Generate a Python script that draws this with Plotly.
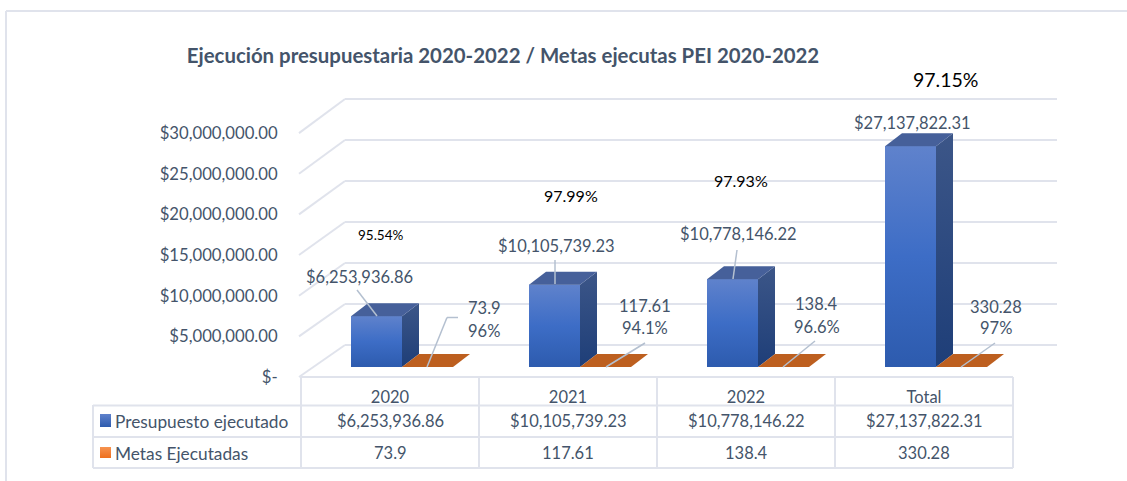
import plotly.graph_objects as go

categories = ["2020", "2021", "2022", "Total"]
presupuesto = [6253936.86, 10105739.23, 10778146.22, 27137822.31]
metas = [73.9, 117.61, 138.4, 330.28]
metas_pct = ["96%", "94.1%", "96.6%", "97%"]
ejec_pct = ["95.54%", "97.99%", "97.93%", "97.15%"]
y_ticks = [0, 5e6, 10e6, 15e6, 20e6, 25e6, 30e6]
y_tick_labels = ["$-", "$5,000,000.00", "$10,000,000.00", "$15,000,000.00",
                 "$20,000,000.00", "$25,000,000.00", "$30,000,000.00"]
serie_names = ["Presupuesto ejecutado", "Metas Ejecutadas"]

W, H = 1127, 481
PX0, PY0 = 301.0, 377.0      # pixel of category 0 / value 0 on the front plane
CAT_W = 178.0                # pixels per category
PER_PX = 1e6 / 8.13          # value units per pixel
TXT = "#44546A"
GRID = "#E0E3EC"
FONT = "Lato"


def X(px):
    return (px - PX0) / CAT_W


def Y(py):
    return (PY0 - py) * PER_PX


def money(v):
    return "${:,.2f}".format(v)


BAR_W = 51 / CAT_W
BASE = 10 * PER_PX           # bars stand inside the floor
DX, DY = 17 / CAT_W, 13 * PER_PX      # bar depth
OFF_B, OFF_O = 75.5 / CAT_W, 126.5 / CAT_W

fig = go.Figure()

fig.add_trace(go.Bar(x=[i + OFF_B for i in range(4)], y=presupuesto, base=BASE, width=BAR_W,
                     marker=dict(color="#3F6DC4", line=dict(width=0)), name=serie_names[0],
                     hoverinfo="skip"))
fig.add_trace(go.Bar(x=[i + OFF_O for i in range(4)], y=metas, base=BASE, width=BAR_W,
                     marker=dict(color="#BD5F1F", line=dict(width=0)), name=serie_names[1],
                     hoverinfo="skip"))


def poly(xs, ys, stops=None, color=None):
    kw = dict(x=xs + xs[:1], y=ys + ys[:1], mode="lines", fill="toself", line=dict(width=0),
              hoverinfo="skip", showlegend=False)
    if stops:
        kw["fillgradient"] = dict(type="vertical", colorscale=stops)
        kw["fillcolor"] = stops[0][1]
    else:
        kw["fillcolor"] = color
    fig.add_trace(go.Scatter(**kw))


for i, v in enumerate(presupuesto):
    l = i + OFF_B - BAR_W / 2
    r = l + BAR_W
    t = BASE + v
    poly([l, r, r, l], [BASE, BASE, t, t],
         stops=[[0, "#2D5BAE"], [0.5, "#3D6DC6"], [1, "#5F82CC"]])
    poly([r, r + DX, r + DX, r], [BASE, BASE + DY, t + DY, t],
         stops=[[0, "#1E3E78"], [1, "#3C5688"]])
    poly([l, r, r + DX, l + DX], [t, t, t + DY, t + DY], color="#46609A")

for i, v in enumerate(metas):
    l = i + OFF_O - BAR_W / 2
    r = l + BAR_W
    poly([l, r, r + DX, l + DX], [BASE + v, BASE + v, BASE + v + DY, BASE + v + DY], color="#BD5F1F")

shapes = []


def line(x0, y0, x1, y1, color=GRID, width=2, layer="below"):
    shapes.append(dict(type="line", xref="x", yref="y", x0=x0, y0=y0, x1=x1, y1=y1,
                       line=dict(color=color, width=width), layer=layer))


# 3D walls: back gridlines and diagonals, from the axis ticks
GX, GY, G_SCALE = 44 / CAT_W, 32 * PER_PX, 8.2 / 8.13
for t in y_ticks:
    back = t * G_SCALE + GY
    line(X(299), t, GX, back)
    line(GX, back, X(1057), back)

# outer frame of the picture
line(X(6), Y(11), X(1127), Y(11), width=2)
line(X(6), Y(11), X(6), Y(481), width=2)

# data table
for px in [301, 479, 657, 835, 1013]:
    line(X(px), Y(377), X(px), Y(468), width=2)
line(X(93), Y(405), X(93), Y(468), width=2)
line(X(301), Y(377), X(1013), Y(377), width=2)
for py in [405.5, 437, 468]:
    line(X(93), Y(py), X(1013), Y(py), width=2)

# leader lines
LEAD = "#B4C0D0"
leaders = [
    [(357, 290), (377, 316)],
    [(458, 317.5), (447, 317.5), (427, 367)],
    [(555, 260), (555, 284)],
    [(645, 343), (606, 367)],
    [(737, 250), (733, 279)],
    [(815, 341), (783, 367)],
    [(995, 343), (961, 367)],
]
for pts in leaders:
    for a, b in zip(pts, pts[1:]):
        line(X(a[0]), Y(a[1]), X(b[0]), Y(b[1]), color=LEAD, width=1.5, layer="above")

annotations = []


def text(px, py, s, size=16.5, color=TXT, anchor="center"):
    annotations.append(dict(x=X(px), y=Y(py), xref="x", yref="y", text=s,
                            showarrow=False, xanchor=anchor, yanchor="middle",
                            font=dict(family=FONT, size=size, color=color)))


blue_pos = [(359, 277), (556, 246), (738, 234), (912, 123)]
for v, p in zip(presupuesto, blue_pos):
    text(p[0], p[1], money(v))

orange_pos = [(484, 308, 331), (644.5, 306, 328), (816.5, 304, 327), (996, 307, 328)]
for v, pct, p in zip(metas, metas_pct, orange_pos):
    text(p[0], p[1], f"{v:g}")
    text(p[0], p[2], pct)

pct_pos = [(380.5, 235, 13.5), (571, 195, 16), (741, 180, 16), (945, 79, 19.5)]
for s, p in zip(ejec_pct, pct_pos):
    text(p[0], p[1], s, size=p[2], color="#000000")

# table body
centers = [390, 568, 746, 924]
for cx, a, b in zip(centers, presupuesto, metas):
    text(cx, 421, money(a))
    text(cx, 453, f"{b:g}")
text(113, 421, serie_names[0], anchor="left", size=17.3)
text(113, 453, serie_names[1], anchor="left", size=17.3)

poly([X(100), X(111), X(111), X(100)], [Y(427), Y(427), Y(414), Y(414)],
     stops=[[0, "#2D5BAE"], [1, "#5F82CC"]])
poly([X(100), X(111), X(111), X(100)], [Y(458), Y(458), Y(447), Y(447)],
     stops=[[0, "#EE6F1E"], [1, "#F69350"]])

fig.update_layout(
    width=W, height=H, margin=dict(l=0, r=0, t=0, b=0), autosize=False,
    paper_bgcolor="white", plot_bgcolor="white", showlegend=False, barmode="overlay",
    title=dict(text="<b>Ejecución presupuestaria 2020-2022 / Metas ejecutas PEI 2020-2022</b>",
               x=503 / W, y=1 - 56 / H, xanchor="center", yanchor="middle",
               font=dict(family=FONT, size=20.4, color=TXT)),
    xaxis=dict(range=[X(0), X(W)], showgrid=False, zeroline=False, showline=False,
               tickmode="array", tickvals=[(c - PX0) / CAT_W for c in centers], ticktext=categories,
               anchor="free", position=1 - 377 / H, side="bottom", ticks="outside", ticklen=5,
               tickcolor="rgba(0,0,0,0)", tickfont=dict(family=FONT, size=16.5, color=TXT)),
    yaxis=dict(range=[Y(H), Y(0)], showgrid=False, zeroline=False, showline=False,
               tickmode="array", tickvals=y_ticks, ticktext=y_tick_labels,
               anchor="free", position=PX0 / W, side="left", ticks="outside", ticklen=20,
               tickcolor="rgba(0,0,0,0)", tickfont=dict(family=FONT, size=16.7, color=TXT)),
    shapes=shapes, annotations=annotations,
)

fig.write_html("out.html", config={"displayModeBar": False},
               post_script="document.body.style.margin='0';document.body.style.overflow='hidden';")
